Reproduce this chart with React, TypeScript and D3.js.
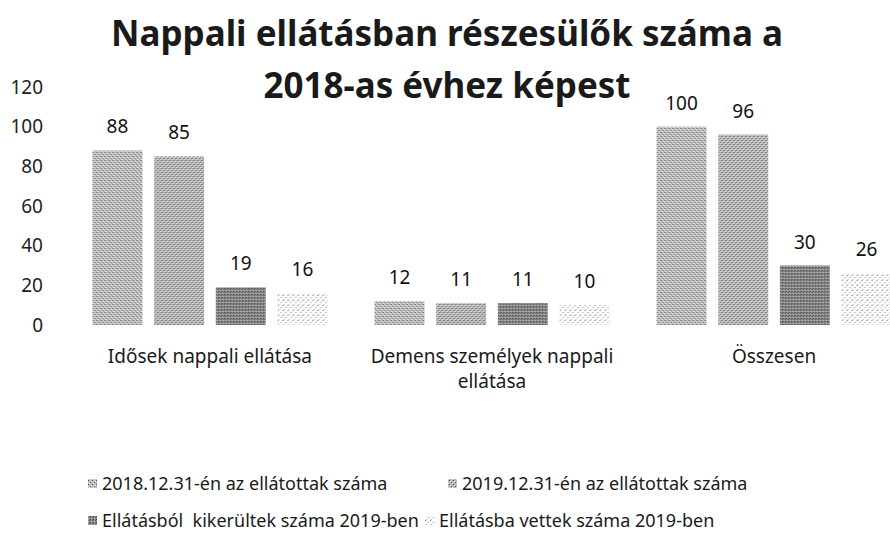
import React from "react";
import * as d3 from "d3";

const categories = ["Idősek nappali ellátása", "Demens személyek nappali ellátása", "Összesen"];
const categoryLines = [["Idősek nappali ellátása"], ["Demens személyek nappali", "ellátása"], ["Összesen"]];
const seriesNames = [
  "2018.12.31-én az ellátottak száma",
  "2019.12.31-én az ellátottak száma",
  "Ellátásból\u00a0 kikerültek száma 2019-ben",
  "Ellátásba vettek száma 2019-ben",
];
const s2018 = [88, 12, 100];
const s2019 = [85, 11, 96];
const sOut = [19, 11, 30];
const sIn = [16, 10, 26];
const seriesValues = [s2018, s2019, sOut, sIn];
const yTicks = [0, 20, 40, 60, 80, 100, 120];
const titleLines = ["Nappali ellátásban részesülők száma a", "2018-as évhez képest"];

const W = 890;
const H = 538;
const FONT = "'Noto Sans', 'Open Sans', sans-serif";

export default function App() {
  const x0 = d3.scaleBand<string>().domain(categories).range([69, 915]).paddingInner(0.167).paddingOuter(0.0833);
  const x1 = d3.scaleBand<number>().domain(d3.range(4)).range([0, x0.bandwidth()]).paddingInner(0.19);
  const y = d3.scaleLinear().domain([0, 120]).range([325, 87]);
  const fills = ["url(#p0)", "url(#p1)", "url(#p2)", "url(#p3)"];
  const swatch = [
    { x: 88, yy: 484 },
    { x: 448, yy: 484 },
    { x: 88, yy: 521 },
    { x: 425, yy: 521 },
  ];

  return (
    <svg width={W} height={H} style={{ position: "absolute", left: 0, top: 0, background: "#fff" }} fontFamily={FONT}>
      <defs>
        <pattern id="p0" width="4" height="4" patternUnits="userSpaceOnUse">
          <rect width="4" height="4" fill="#bdbdbd" />
          <rect x="0" y="0" width="1" height="1" fill="#505050" />
          <rect x="2" y="2" width="1" height="1" fill="#6a6a6a" />
          <rect x="3" y="1" width="1" height="1" fill="#ececec" />
          <rect x="1" y="3" width="1" height="1" fill="#f0f0f0" />
        </pattern>
        <pattern id="p1" width="4" height="4" patternUnits="userSpaceOnUse">
          <rect width="4" height="4" fill="#b6b6b6" />
          <rect x="1" y="0" width="1" height="1" fill="#4a4a4a" />
          <rect x="3" y="2" width="1" height="1" fill="#606060" />
          <rect x="0" y="3" width="1" height="1" fill="#e8e8e8" />
          <rect x="2" y="1" width="1" height="1" fill="#eeeeee" />
        </pattern>
        <pattern id="p2" width="3" height="3" patternUnits="userSpaceOnUse">
          <rect width="3" height="3" fill="#8c8c8c" />
          <rect x="0" y="0" width="1" height="1" fill="#3a3a3a" />
          <rect x="2" y="1" width="1" height="1" fill="#555" />
          <rect x="1" y="2" width="1" height="1" fill="#c4c4c4" />
        </pattern>
        <pattern id="p3" width="5" height="5" patternUnits="userSpaceOnUse">
          <rect width="5" height="5" fill="#fbfbfb" />
          <rect x="0" y="0" width="1" height="1" fill="#777" />
          <rect x="3" y="2" width="1" height="1" fill="#999" />
          <rect x="1" y="4" width="1" height="1" fill="#bbb" />
        </pattern>
      </defs>

      {titleLines.map((t, i) => (
        <text key={t} x={447} y={46 + i * 52} textAnchor="middle" fontSize={35} fontWeight="bold" fill="#1a1a1a">
          {t}
        </text>
      ))}

      {yTicks.map((v) => (
        <text key={v} x={43} y={y(v)} dy="0.35em" textAnchor="end" fontSize={19} fill="#222">
          {v}
        </text>
      ))}

      {categories.map((c, ci) => (
        <g key={c} transform={`translate(${x0(c)},0)`}>
          {seriesValues.map((vals, si) => {
            const v = vals[ci];
            const bx = x1(si)!;
            return (
              <g key={si}>
                <rect x={bx} y={y(v)} width={x1.bandwidth()} height={y(0) - y(v)} fill={fills[si]} />
                <text x={bx + x1.bandwidth() / 2} y={y(v) - 17} textAnchor="middle" fontSize={19} fill="#111">
                  {v}
                </text>
              </g>
            );
          })}
          {categoryLines[ci].map((ln, li) => (
            <text key={li} x={x0.bandwidth() / 2} y={363 + li * 25} textAnchor="middle" fontSize={19} fill="#1a1a1a">
              {ln}
            </text>
          ))}
        </g>
      ))}

      {seriesNames.map((s, i) => (
        <g key={s}>
          <rect x={swatch[i].x} y={swatch[i].yy - 5} width={9} height={9} fill={fills[i]} />
          <text x={swatch[i].x + 14} y={swatch[i].yy} dy="0.35em" fontSize={18} fill="#1a1a1a">
            {s}
          </text>
        </g>
      ))}
    </svg>
  );
}
